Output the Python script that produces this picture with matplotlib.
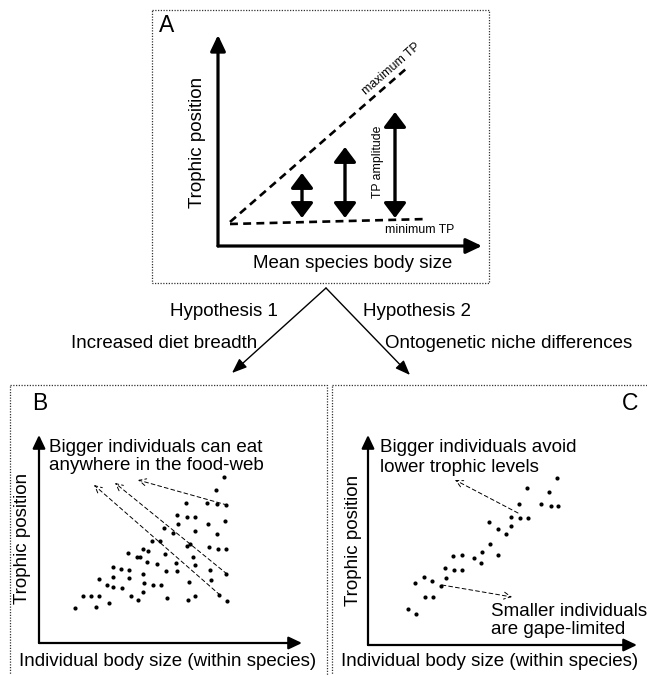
import matplotlib
matplotlib.use("Agg")
import matplotlib.pyplot as plt
from matplotlib.patches import Rectangle

plt.rcParams["font.family"] = ["Liberation Sans", "DejaVu Sans"]

W, H = 647, 675          # output size in pixels
FS = 13.5                # main text size

# ---------------------------------------------------------------------------
# Panel A: schematic of trophic position vs mean species body size
# ---------------------------------------------------------------------------
max_tp_x = [12, 189]
max_tp_y = [24, 178]
min_tp_x = [12, 209]
min_tp_y = [22, 27]
amp_size = [84, 127, 177]
amp_low = [28, 28, 28]
amp_high = [73, 99, 134]

# ---------------------------------------------------------------------------
# Panel B: increased diet breadth (individual body size vs trophic position)
# ---------------------------------------------------------------------------
b_size = [185, 177, 147, 168, 178, 187, 138, 148, 156, 186, 139, 169, 125,
          134, 156, 178, 113, 121, 148, 151, 170, 179, 187, 89, 104, 109,
          98, 101, 126, 154, 108, 118, 137, 156, 74, 82, 90, 171, 187, 127,
          138, 60, 74, 90, 104, 172, 68, 74, 83, 105, 114, 122, 150, 44, 52,
          60, 92, 104, 99, 128, 149, 156, 180, 188, 36, 57, 70]
b_tp = [166, 153, 140, 140, 139, 138, 128, 126, 126, 122, 119, 119, 115,
        110, 112, 109, 102, 102, 97, 99, 96, 94, 94, 90, 94, 92, 86, 86, 89,
        86, 81, 79, 80, 78, 76, 74, 73, 73, 69, 72, 72, 64, 66, 65, 69, 63,
        58, 56, 55, 60, 58, 58, 61, 47, 47, 47, 47, 51, 43, 45, 43, 47, 48,
        42, 35, 36, 40]
# dashed arrows: (tail size, tail tp, head size, head tp)
b_arrows = [(188, 138, 99, 163), (188, 69, 76, 160), (181, 48, 55, 158)]

# ---------------------------------------------------------------------------
# Panel C: ontogenetic niche differences
# ---------------------------------------------------------------------------
c_size = [189, 159, 181, 151, 173, 183, 190, 143, 152, 160, 121, 143, 130,
          138, 122, 130, 114, 85, 94, 106, 113, 77, 86, 94, 47, 56, 64, 78,
          73, 57, 65, 40, 48]
c_tp = [167, 157, 153, 141, 141, 139, 139, 128, 127, 127, 123, 119, 116,
        111, 101, 90, 93, 89, 90, 87, 82, 77, 75, 75, 62, 68, 64, 67, 59,
        48, 48, 36, 31]
c_arrows = [(150, 132, 87, 165), (74, 60, 144, 48)]

fig = plt.figure(figsize=(W / 100, H / 100), dpi=100)

# layout layer in pixel coordinates (origin top-left)
lay = fig.add_axes([0, 0, 1, 1])
lay.set_xlim(0, W)
lay.set_ylim(H, 0)
lay.axis("off")


def px_axes(x0, y0, x1, y1):
    """Axes whose box spans pixels x0..x1 (left-right), y0..y1 (top-bottom)."""
    ax = fig.add_axes([x0 / W, 1 - y1 / H, (x1 - x0) / W, (y1 - y0) / H])
    ax.set_xlim(0, x1 - x0)
    ax.set_ylim(0, y1 - y0)
    ax.patch.set_alpha(0)
    for s in ax.spines.values():
        s.set_visible(False)
    ax.set_xticks([])
    ax.set_yticks([])
    return ax


def axis_arrows(ax, lw, ms):
    style = "-|>,head_length=0.8,head_width=0.38"
    kw = dict(arrowstyle=style, mutation_scale=ms, lw=lw, color="black",
              shrinkA=0, shrinkB=0)
    ax.annotate("", xy=(1, 0), xytext=(0, 0), xycoords="axes fraction",
                arrowprops=kw, annotation_clip=False)
    ax.annotate("", xy=(0, 1), xytext=(0, 0), xycoords="axes fraction",
                arrowprops=kw, annotation_clip=False)


box = dict(fill=False, ls=(0, (1, 1.2)), lw=0.9, ec="#333333")
lay.add_patch(Rectangle((152, 10), 337, 273, **box))
lay.add_patch(Rectangle((10, 385), 317, 300, **box))
lay.add_patch(Rectangle((332, 385), 330, 300, **box))

# ---- panel A --------------------------------------------------------------
axA = px_axes(218, 35, 482, 246)
axis_arrows(axA, 2.3, 12)
axA.plot(max_tp_x, max_tp_y, color="black", lw=1.9, dashes=(3, 2),
         clip_on=False)
axA.plot(min_tp_x, min_tp_y, color="black", lw=1.9, dashes=(3, 2),
         clip_on=False)
for x, lo, hi in zip(amp_size, amp_low, amp_high):
    axA.annotate("", xy=(x, hi), xytext=(x, lo),
                 arrowprops=dict(arrowstyle="<|-|>,head_length=0.6,head_width=0.45",
                                 mutation_scale=15, lw=2.4, color="black",
                                 shrinkA=0, shrinkB=0))
axA.text(173, 177, "maximum TP", rotation=41, rotation_mode="anchor",
         ha="center", va="center", fontsize=8.8)
axA.text(167, 16, "minimum TP", ha="left", va="center", fontsize=8.8)
axA.text(160, 84, "TP amplitude", rotation=90, ha="center", va="center",
         fontsize=8.8)

lay.text(167, 26, "A", fontsize=16.5, ha="center", va="center")
lay.text(198, 142, "Trophic position", rotation=90, ha="center", va="center",
         fontsize=FS)
lay.text(353, 263, "Mean species body size", ha="center", va="center",
         fontsize=FS)

# ---- hypotheses connectors ------------------------------------------------
for end in [(232, 373), (410, 375)]:
    lay.annotate("", xy=end, xytext=(326, 288),
                 arrowprops=dict(arrowstyle="-|>,head_length=0.9,head_width=0.35",
                                 mutation_scale=10, lw=1.0, color="black",
                                 shrinkA=0, shrinkB=0))
lay.text(278, 312, "Hypothesis 1", ha="right", va="center", fontsize=FS)
lay.text(257, 343, "Increased diet breadth", ha="right", va="center",
         fontsize=FS)
lay.text(363, 312, "Hypothesis 2", ha="left", va="center", fontsize=FS)
lay.text(385, 343, "Ontogenetic niche differences", ha="left", va="center",
         fontsize=FS)

# ---- panel B --------------------------------------------------------------
axB = px_axes(39, 435, 302, 643)
axis_arrows(axB, 1.6, 10)
axB.scatter(b_size, b_tp, s=9, color="black", lw=0, clip_on=False)
for x0, y0, x1, y1 in b_arrows:
    axB.annotate("", xy=(x1, y1), xytext=(x0, y0),
                 arrowprops=dict(arrowstyle="->,head_length=0.5,head_width=0.25",
                                 mutation_scale=10, lw=0.7, ls=(0, (4, 3)),
                                 color="black", shrinkA=0, shrinkB=0))
lay.text(40, 404, "B", fontsize=16.5, ha="center", va="center")
lay.text(23, 538, "Trophic position", rotation=90, ha="center", va="center",
         fontsize=FS)
lay.text(168, 662, "Individual body size (within species)", ha="center",
         va="center", fontsize=FS)
lay.text(49, 448, "Bigger individuals can eat", ha="left", va="center",
         fontsize=FS)
lay.text(49, 466, "anywhere in the food-web", ha="left", va="center",
         fontsize=FS)

# ---- panel C --------------------------------------------------------------
axC = px_axes(368, 435, 637, 645)
axis_arrows(axC, 1.6, 10)
axC.scatter(c_size, c_tp, s=9, color="black", lw=0, clip_on=False)
for x0, y0, x1, y1 in c_arrows:
    axC.annotate("", xy=(x1, y1), xytext=(x0, y0),
                 arrowprops=dict(arrowstyle="->,head_length=0.5,head_width=0.25",
                                 mutation_scale=10, lw=0.7, ls=(0, (4, 3)),
                                 color="black", shrinkA=0, shrinkB=0))
lay.text(630, 404, "C", fontsize=16.5, ha="center", va="center")
lay.text(353, 540, "Trophic position", rotation=90, ha="center", va="center",
         fontsize=FS)
lay.text(490, 662, "Individual body size (within species)", ha="center",
         va="center", fontsize=FS)
lay.text(380, 448, "Bigger individuals avoid", ha="left", va="center",
         fontsize=FS)
lay.text(380, 467, "lower trophic levels", ha="left", va="center",
         fontsize=FS)
lay.text(491, 612, "Smaller individuals", ha="left", va="center",
         fontsize=FS)
lay.text(491, 630, "are gape-limited", ha="left", va="center", fontsize=FS)

fig.savefig("out.png", dpi=100, facecolor="white")
